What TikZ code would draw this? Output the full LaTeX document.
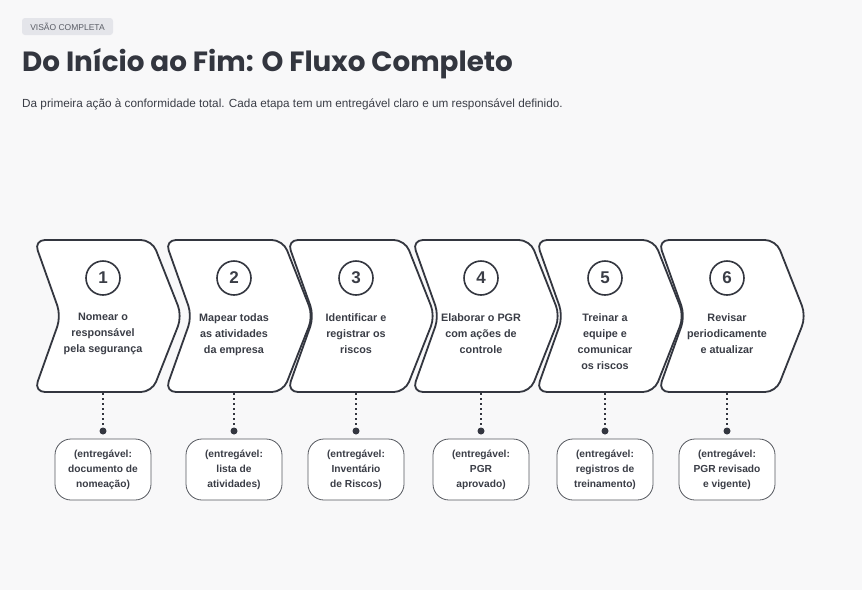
\documentclass[tikz,border=0pt]{standalone}
\usepackage{fontspec}
\setmainfont{Liberation Sans}
\newfontfamily\titlefont{Poppins}
\definecolor{bgc}{HTML}{F8F8F9}
\definecolor{ink}{HTML}{33363F}
\definecolor{txt}{HTML}{3A3D46}
\definecolor{badgebg}{HTML}{E4E5EA}
\definecolor{badgetx}{HTML}{5A5D66}
\definecolor{boxln}{HTML}{55585F}
\tikzset{
  chev/.style={draw=ink, line width=1.8pt, fill=white, rounded corners=11pt, line join=round},
  numc/.style={circle, draw=ink, line width=1.6pt, minimum size=34pt, inner sep=0pt, font=\fontsize{17}{17}\selectfont\bfseries, text=txt},
  steptext/.style={anchor=north, align=center, font=\fontsize{10.8}{16}\selectfont\bfseries, text=txt},
  deliv/.style={draw=boxln, line width=0.8pt, fill=white, rounded corners=16pt, minimum width=96pt, minimum height=61pt, align=center, font=\fontsize{10.2}{15}\selectfont\bfseries, text=txt, inner sep=0pt},
  dotline/.style={draw=ink, line width=1.4pt, dash pattern=on 2pt off 3pt},
  dotmark/.style={circle, fill=ink, minimum size=7pt, inner sep=0pt},
  badge/.style={fill=badgebg, rounded corners=3pt, minimum width=91pt, minimum height=17pt, inner sep=0pt, font=\fontsize{8.5}{9}\selectfont, text=badgetx}
}
\newcommand{\chevron}[1]{%
  \draw[chev] (#1-69,240) -- (#1+49,240) -- (#1+79,316) -- (#1+49,392) -- (#1-69,392) -- (#1-42,316) -- cycle;}
\begin{document}
\begin{tikzpicture}[x=1pt,y=-1pt]
\fill[bgc] (0,0) rectangle (862,590);
\useasboundingbox (0,0) rectangle (862,590);
\node[badge] (badge) at (67.5,26.5) {VISÃO COMPLETA};
\node[anchor=base west, inner sep=0pt, font=\titlefont\bfseries\fontsize{27.8}{30}\selectfont, text=ink] (title) at (22,71) {Do Início ao Fim: O Fluxo Completo};
\node[anchor=base west, inner sep=0pt, font=\fontsize{11.75}{13}\selectfont, text=txt] (sub) at (22,107) {Da primeira ação à conformidade total. Cada etapa tem um entregável claro e um responsável definido.};
\foreach \c/\n/\t/\d in {
  103/1/{Nomear o\\responsável\\pela segurança}/{(entregável:\\documento de\\nomeação)},
  234/2/{Mapear todas\\as atividades\\da empresa}/{(entregável:\\lista de\\atividades)},
  356/3/{Identificar e\\registrar os\\riscos}/{(entregável:\\Inventário\\de Riscos)},
  481/4/{Elaborar o PGR\\com ações de\\controle}/{(entregável:\\PGR\\aprovado)},
  605/5/{Treinar a\\equipe e\\comunicar\\os riscos}/{(entregável:\\registros de\\treinamento)},
  727/6/{Revisar\\periodicamente\\e atualizar}/{(entregável:\\PGR revisado\\e vigente)}}{
  \chevron{\c}
  \node[numc] (num\n) at (\c,278) {\n};
  \node[steptext] (step\n) at (\c,310) {\t};
  \coordinate (bot\n) at (\c,393);
  \node[dotmark] (dot\n) at (\c,431) {};
  \node[deliv] (del\n) at (\c,469.5) {\d};
  \draw[dotline] (bot\n) -- (dot\n.center);
}
\end{tikzpicture}
\end{document}
